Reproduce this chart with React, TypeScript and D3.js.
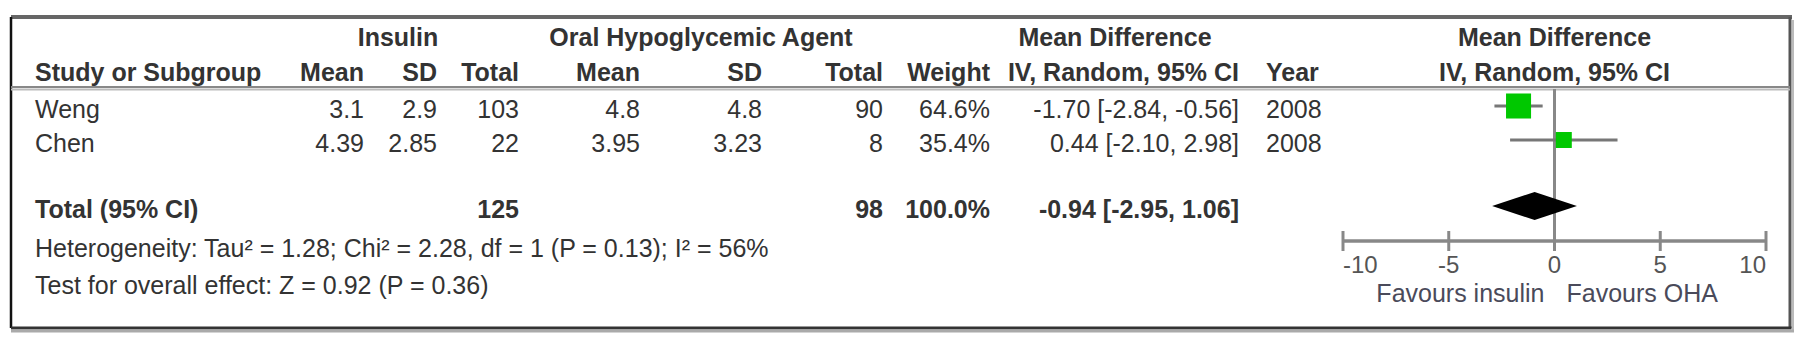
import React from "react";
import * as d3 from "d3";

// ---- data ----
const studies = ["Weng", "Chen"];
const insulinMean = [3.1, 4.39];
const insulinSD = [2.9, 2.85];
const insulinTotal = [103, 22];
const ohaMean = [4.8, 3.95];
const ohaSD = [4.8, 3.23];
const ohaTotal = [90, 8];
const weights = [64.6, 35.4];
const mdValues = [-1.7, 0.44];
const mdLower = [-2.84, -2.1];
const mdUpper = [-0.56, 2.98];
const years = [2008, 2008];

const totalInsulin = 125;
const totalOha = 98;
const totalWeight = 100.0;
const totalMd = [-0.94, -2.95, 1.06]; // estimate, lower, upper

const heterogeneityText = "Heterogeneity: Tau\u00B2 = 1.28; Chi\u00B2 = 2.28, df = 1 (P = 0.13); I\u00B2 = 56%";
const overallText = "Test for overall effect: Z = 0.92 (P = 0.36)";
const axisTicks = [-10, -5, 0, 5, 10];
const favourLeft = "Favours insulin";
const favourRight = "Favours OHA";

// ---- layout ----
const W = 1807;
const H = 356;
const FONT = "'Liberation Sans', Arial, Helvetica, sans-serif";
const FS = 25;
const TXT = "#333";

const COL = {
  study: 35,
  insMean: 364,
  insSD: 437,
  insTotal: 519,
  ohaMean: 640,
  ohaSD: 762,
  ohaTotal: 883,
  weight: 990,
  ci: 1239,
  year: 1266,
};
const ROW = {
  h1: 46,
  h2: 81,
  sep: 88,
  first: 118,
  step: 34,
  total: 218,
  het: 257,
  test: 294,
  axis: 241,
  tick: 273,
  fav: 302,
};
const BOX = { left: 11, right: 1790, top: 17, bottom: 328 };

const fmtMD = (m: number, l: number, u: number) =>
  `${m.toFixed(2)} [${l.toFixed(2)}, ${u.toFixed(2)}]`;

export default function App() {
  const x = d3.scaleLinear().domain([-10, 10]).range([1343, 1766]);
  const size = d3.scaleLinear().domain([0, 100]).range([5, 36]);
  const rowY = (i: number) => ROW.first + i * ROW.step;
  const markY = (base: number) => base - 12;
  const x0 = x(0);

  const T = (props: any) => (
    <text fontFamily={FONT} fontSize={FS} fill={TXT} {...props} />
  );

  const [tm, tl, tu] = totalMd;
  const dy = markY(ROW.total);
  const diamond = d3.line()([
    [x(tl), dy],
    [x(tm), dy - 14],
    [x(tu), dy],
    [x(tm), dy + 14],
  ]) + "Z";

  return (
    <svg
      width={W}
      height={H}
      style={{ position: "absolute", left: 0, top: 0, background: "#fff" }}
    >
      <rect x={0} y={0} width={W} height={H} fill="#fff" />
      {/* frame */}
      <line x1={BOX.left} x2={BOX.right + 2} y1={BOX.top} y2={BOX.top} stroke="#666" strokeWidth={4} />
      <line x1={BOX.left} x2={BOX.left} y1={BOX.top} y2={BOX.bottom} stroke="#111" strokeWidth={2.5} />
      <line x1={BOX.right} x2={BOX.right} y1={BOX.top} y2={BOX.bottom} stroke="#555" strokeWidth={3} />
      <line x1={BOX.right + 3} x2={BOX.right + 3} y1={BOX.top + 3} y2={BOX.bottom + 3} stroke="#bbb" strokeWidth={2} />
      <line x1={BOX.left} x2={BOX.right + 1.5} y1={BOX.bottom} y2={BOX.bottom} stroke="#333" strokeWidth={3} />
      <line x1={BOX.left} x2={BOX.right + 4} y1={BOX.bottom + 3} y2={BOX.bottom + 3} stroke="#aaa" strokeWidth={3} />

      {/* header separator */}
      <line x1={BOX.left} x2={BOX.right} y1={ROW.sep - 1} y2={ROW.sep - 1} stroke="#888" strokeWidth={2} />
      <line x1={BOX.left} x2={BOX.right} y1={ROW.sep + 1.5} y2={ROW.sep + 1.5} stroke="#bbb" strokeWidth={2} />

      {/* header row 1 */}
      <g fontWeight="bold">
        <T x={398} y={ROW.h1} textAnchor="middle" fontWeight="bold">Insulin</T>
        <T x={701} y={ROW.h1} textAnchor="middle" fontWeight="bold">Oral Hypoglycemic Agent</T>
        <T x={1115} y={ROW.h1} textAnchor="middle" fontWeight="bold">Mean Difference</T>
        <T x={x0} y={ROW.h1} textAnchor="middle" fontWeight="bold">Mean Difference</T>
        {/* header row 2 */}
        <T x={COL.study} y={ROW.h2} fontWeight="bold">Study or Subgroup</T>
        <T x={COL.insMean} y={ROW.h2} textAnchor="end" fontWeight="bold">Mean</T>
        <T x={COL.insSD} y={ROW.h2} textAnchor="end" fontWeight="bold">SD</T>
        <T x={COL.insTotal} y={ROW.h2} textAnchor="end" fontWeight="bold">Total</T>
        <T x={COL.ohaMean} y={ROW.h2} textAnchor="end" fontWeight="bold">Mean</T>
        <T x={COL.ohaSD} y={ROW.h2} textAnchor="end" fontWeight="bold">SD</T>
        <T x={COL.ohaTotal} y={ROW.h2} textAnchor="end" fontWeight="bold">Total</T>
        <T x={COL.weight} y={ROW.h2} textAnchor="end" fontWeight="bold">Weight</T>
        <T x={COL.ci} y={ROW.h2} textAnchor="end" fontWeight="bold">IV, Random, 95% CI</T>
        <T x={COL.year} y={ROW.h2} fontWeight="bold">Year</T>
        <T x={x0} y={ROW.h2} textAnchor="middle" fontWeight="bold">IV, Random, 95% CI</T>
      </g>

      {/* study rows */}
      {studies.map((s, i) => {
        const y = rowY(i);
        return (
          <g key={s}>
            <T x={COL.study} y={y}>{s}</T>
            <T x={COL.insMean} y={y} textAnchor="end">{String(insulinMean[i])}</T>
            <T x={COL.insSD} y={y} textAnchor="end">{String(insulinSD[i])}</T>
            <T x={COL.insTotal} y={y} textAnchor="end">{insulinTotal[i]}</T>
            <T x={COL.ohaMean} y={y} textAnchor="end">{String(ohaMean[i])}</T>
            <T x={COL.ohaSD} y={y} textAnchor="end">{String(ohaSD[i])}</T>
            <T x={COL.ohaTotal} y={y} textAnchor="end">{ohaTotal[i]}</T>
            <T x={COL.weight} y={y} textAnchor="end">{weights[i].toFixed(1)}%</T>
            <T x={COL.ci} y={y} textAnchor="end">{fmtMD(mdValues[i], mdLower[i], mdUpper[i])}</T>
            <T x={COL.year} y={y}>{years[i]}</T>
          </g>
        );
      })}

      {/* total row */}
      <T x={COL.study} y={ROW.total} fontWeight="bold">Total (95% CI)</T>
      <T x={COL.insTotal} y={ROW.total} textAnchor="end" fontWeight="bold">{totalInsulin}</T>
      <T x={COL.ohaTotal} y={ROW.total} textAnchor="end" fontWeight="bold">{totalOha}</T>
      <T x={COL.weight} y={ROW.total} textAnchor="end" fontWeight="bold">{totalWeight.toFixed(1)}%</T>
      <T x={COL.ci} y={ROW.total} textAnchor="end" fontWeight="bold">{fmtMD(tm, tl, tu)}</T>
      <T x={COL.study} y={ROW.het}>{heterogeneityText}</T>
      <T x={COL.study} y={ROW.test}>{overallText}</T>

      {/* forest plot */}
      <line x1={x0} x2={x0} y1={ROW.sep + 1} y2={ROW.axis + 10} stroke="#888" strokeWidth={3} />
      {studies.map((s, i) => {
        const cy = markY(rowY(i));
        const sz = size(weights[i]);
        return (
          <g key={"m" + s}>
            <line x1={x(mdLower[i])} x2={x(mdUpper[i])} y1={cy} y2={cy} stroke="#777" strokeWidth={3} />
            <rect x={x(mdValues[i]) - sz / 2} y={cy - sz / 2} width={sz} height={sz} fill="#00c800" />
          </g>
        );
      })}
      <path d={diamond} fill="#000" />

      {/* axis */}
      <line x1={x(-10)} x2={x(10)} y1={ROW.axis} y2={ROW.axis} stroke="#888" strokeWidth={3.5} />
      {axisTicks.map((t, i) => (
        <g key={"t" + t}>
          <line x1={x(t)} x2={x(t)} y1={ROW.axis - 10} y2={ROW.axis + 10} stroke="#888" strokeWidth={3} />
          <T
            x={x(t)}
            y={ROW.tick}
            fontSize={24}
            fill="#555"
            textAnchor={i === 0 ? "start" : i === axisTicks.length - 1 ? "end" : "middle"}
          >
            {String(t)}
          </T>
        </g>
      ))}
      <T x={x0 - 10} y={ROW.fav} textAnchor="end" fill="#4a4a5a">{favourLeft}</T>
      <T x={x0 + 12} y={ROW.fav} fill="#4a4a5a">{favourRight}</T>
    </svg>
  );
}
